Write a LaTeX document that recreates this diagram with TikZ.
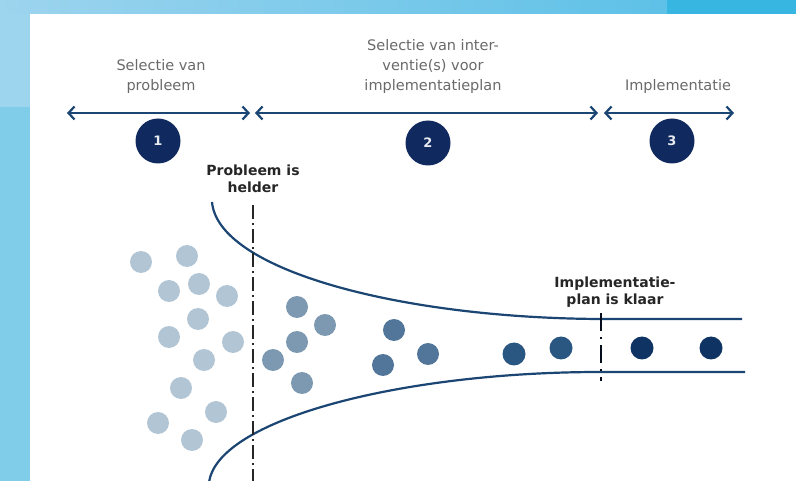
\documentclass[tikz,border=0pt]{standalone}
\usepackage{fontspec}
\setmainfont{DejaVu Sans}
\usepackage{xcolor}
\usetikzlibrary{arrows.meta}
\definecolor{navy}{HTML}{102A60}
\definecolor{lineblue}{HTML}{1B4572}
\definecolor{textgray}{HTML}{6A6A6A}
\definecolor{dotA}{HTML}{B2C5D5}
\definecolor{dotB}{HTML}{7D99B2}
\definecolor{dotC}{HTML}{52769A}
\definecolor{dotD}{HTML}{2A5682}
\definecolor{dotE}{HTML}{0F3463}
\definecolor{skyA}{HTML}{9DD4EE}
\definecolor{skyB}{HTML}{5EC1E7}
\definecolor{skyC}{HTML}{38B6E2}
\definecolor{skyD}{HTML}{80CDEA}
\tikzset{>={Straight Barb[length=6pt,width=13pt]}}
\tikzset{
	phase/.style={font=\fontsize{14.5}{20}\selectfont, text=textgray, align=center},
	mijlpaal/.style={font=\fontsize{14}{17.5}\selectfont\bfseries, text=black!85, align=center},
	stap/.style={circle, fill=navy, minimum size=45pt, inner sep=0pt,
			text=white!90!navy, font=\fontsize{13}{15}\selectfont\bfseries},
	fase/.style={<->, line width=2.2pt, draw=lineblue},
	trechter/.style={line width=2.2pt, draw=lineblue},
	grens/.style={line width=2.4pt, draw=black!85, dash pattern=on 14pt off 4pt on 2pt off 4pt}
}

\begin{document}
\begin{tikzpicture}[x=1pt,y=-1pt]
	\useasboundingbox (0,0) rectangle (796,481);
	\fill[white] (0,0) rectangle (796,481);
	\shade[left color=skyA, right color=skyB] (0,0) rectangle (667,14);
	\fill[skyC] (667,0) rectangle (796,14);
	\fill[skyA] (0,14) rectangle (30,107);
	\fill[skyD] (0,107) rectangle (30,481);

	\node[phase] (t1) at (161,77) {Selectie van\\probleem};
	\node[phase] (t2) at (433,67) {Selectie van inter-\\ventie(s) voor\\implementatieplan};
	\node[phase] (t3) at (678,87) {Implementatie};

	\coordinate (a1) at (67,113);
	\coordinate (a2) at (250,113);
	\coordinate (b1) at (255,113);
	\coordinate (b2) at (598,113);
	\coordinate (c1) at (604,113);
	\coordinate (c2) at (734,113);
	\draw[fase] (a1) -- (a2);
	\draw[fase] (b1) -- (b2);
	\draw[fase] (c1) -- (c2);

	\node[stap] (s1) at (158,141) {1};
	\node[stap] (s2) at (428,143) {2};
	\node[stap] (s3) at (672,141) {3};

	\node[mijlpaal] (m1) at (253,179) {Probleem is\\helder};
	\node[mijlpaal] (m2) at (615,292) {Implementatie-\\plan is klaar};

	\begin{scope}
		\clip (0,0) rectangle (796,481);
		\draw[trechter] (212,202) .. controls (218,270) and (400,318) .. (600,319) -- (742,319);
		\draw[trechter] (209,483) .. controls (216,420) and (400,372) .. (600,372) -- (745,372);
	\end{scope}

	\coordinate (g1) at (253,205);
	\coordinate (g2) at (253,481);
	\draw[grens] (g1) -- (g2);
	\coordinate (h1) at (601,313);
	\coordinate (h2) at (601,381);
	\draw[grens, line width=1.6pt, draw=black!70!navy, dash pattern=on 18pt off 6pt on 2pt off 6pt] (h1) -- (h2);

	\foreach \x/\y in {141/262, 187/256, 169/291, 199/284, 227/296, 198/319, 169/337,
			233/342, 204/360, 181/388, 216/412, 158/423, 192/440}
	\fill[dotA] (\x,\y) circle (11pt);
	\foreach \x/\y in {297/307, 325/325, 297/342, 273/360, 302/383}
	\fill[dotB] (\x,\y) circle (11pt);
	\foreach \x/\y in {394/330, 383/365, 428/354}
	\fill[dotC] (\x,\y) circle (11pt);
	\foreach \x/\y in {514/354, 561/348}
	\fill[dotD] (\x,\y) circle (11.5pt);
	\foreach \x/\y in {642/348, 711/348}
	\fill[dotE] (\x,\y) circle (11.5pt);
\end{tikzpicture}
\end{document}
